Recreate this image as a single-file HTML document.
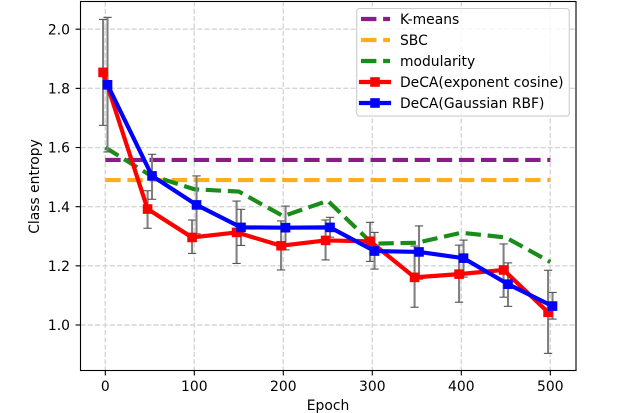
<!DOCTYPE html>
<html>
<head>
<meta charset="utf-8">
<style>
html,body{margin:0;padding:0;background:#fff;width:640px;height:413px;overflow:hidden}
svg{display:block}
text{font-family:"DejaVu Sans","Liberation Sans",sans-serif;font-size:13.89px;fill:#000}
</style>
</head>
<body>
<svg id="chart" width="640" height="413" viewBox="0 0 640 413" xmlns="http://www.w3.org/2000/svg">
  <g id="grid"></g>
  <g id="series"></g>
  <rect x="80.5" y="1.5" width="495.5" height="369" fill="none" stroke="#000" stroke-width="1.11"/>
  <g id="ticks"></g>
  <text x="328" y="410" text-anchor="middle">Epoch</text>
  <text transform="translate(39,186.5) rotate(-90)" text-anchor="middle">Class entropy</text>
  <g>
    <rect x="356.7" y="8.5" width="212.6" height="107.6" rx="3" ry="3" fill="#fff" fill-opacity="0.8" stroke="#ccc" stroke-width="1.11"/>
    <g>
      <line x1="361" x2="390" y1="19" y2="19" stroke="#8b1a8b" stroke-width="4.17" stroke-dasharray="15.4 6.7"/>
      <text x="400" y="24">K-means</text>
    </g>
    <g>
      <line x1="361" x2="390" y1="40" y2="40" stroke="#ffae1a" stroke-width="4.17" stroke-dasharray="15.4 6.7"/>
      <text x="400" y="45">SBC</text>
    </g>
    <g>
      <line x1="361" x2="390" y1="61" y2="61" stroke="#1a8c1a" stroke-width="4.17" stroke-dasharray="15.4 6.7"/>
      <text x="400" y="66">modularity</text>
    </g>
    <g>
      <line x1="361" x2="389" y1="82" y2="82" stroke="#f00" stroke-width="4.17" stroke-linecap="square"/>
      <rect x="370.2" y="77.2" width="9.6" height="9.6" fill="#f00"/>
      <text x="400" y="87">DeCA(exponent cosine)</text>
    </g>
    <g>
      <line x1="361" x2="389" y1="103" y2="103" stroke="#00f" stroke-width="4.17" stroke-linecap="square"/>
      <rect x="370.2" y="98.2" width="9.6" height="9.6" fill="#00f"/>
      <text x="400" y="108">DeCA(Gaussian RBF)</text>
    </g>
  </g>
</svg>
<script>
const epochs = [0, 50, 100, 150, 200, 250, 300, 350, 400, 450, 500];
const xTickLabels = [0, 100, 200, 300, 400, 500];
const yTickLabels = ["1.0", "1.2", "1.4", "1.6", "1.8", "2.0"];
const kmeansValue = 1.558;
const sbcValue = 1.49;
const modularity = [1.6, 1.507, 1.459, 1.451, 1.368, 1.42, 1.275, 1.278, 1.312, 1.296, 1.213];
const cosineMean = [1.854, 1.392, 1.296, 1.313, 1.268, 1.286, 1.283, 1.161, 1.172, 1.186, 1.043];
const cosineHigh = [2.033, 1.454, 1.355, 1.419, 1.352, 1.355, 1.347, 1.267, 1.27, 1.274, 1.185];
const cosineLow = [1.675, 1.327, 1.242, 1.208, 1.186, 1.22, 1.215, 1.06, 1.077, 1.094, 0.904];
const rbfMean = [1.812, 1.504, 1.406, 1.33, 1.329, 1.33, 1.25, 1.247, 1.226, 1.138, 1.064];
const rbfHigh = [2.04, 1.577, 1.504, 1.391, 1.402, 1.364, 1.313, 1.335, 1.287, 1.21, 1.11];
const rbfLow = [1.585, 1.425, 1.308, 1.269, 1.254, 1.297, 1.189, 1.155, 1.162, 1.063, 1.02];
const cosineOffset = -2.5;
const rbfOffset = 2.5;

const NS = 'http://www.w3.org/2000/svg';
function X(v) { return 105.3 + 0.89 * v; }
function Y(v) { return 325 - 295.8 * (v - 1); }
function make(tag, parent) {
  const el = document.createElementNS(NS, tag);
  parent.appendChild(el);
  return el;
}
function setAll(el, pairs) {
  for (const k in pairs) el.setAttribute(k, pairs[k]);
}
const gridG = document.getElementById('grid');
const seriesG = document.getElementById('series');
const ticksG = document.getElementById('ticks');
const gridStyle = { stroke: '#d6d6d6', 'stroke-width': 1.39, 'stroke-dasharray': '5.1 2.2', fill: 'none' };

xTickLabels.forEach(function (t) {
  const g = make('line', gridG);
  
  
  setAll(g, gridStyle);
  setAll(g, { x1: X(t), x2: X(t), y1: 1.5, y2: 370.5 });
  const tk = make('line', ticksG);
  
  
  setAll(tk, { x1: X(t), x2: X(t), y1: 370.5, y2: 375.4, stroke: '#000', 'stroke-width': 1.11 });
  const lb = make('text', ticksG);
  
  
  setAll(lb, { x: X(t), y: 391, 'text-anchor': 'middle' });
  lb.textContent = t;
});
yTickLabels.forEach(function (t) {
  const v = parseFloat(t);
  const g = make('line', gridG);
  
  
  setAll(g, gridStyle);
  setAll(g, { x1: 80.5, x2: 576, y1: Y(v), y2: Y(v) });
  const tk = make('line', ticksG);
  
  
  setAll(tk, { x1: 75.6, x2: 80.5, y1: Y(v), y2: Y(v), stroke: '#000', 'stroke-width': 1.11 });
  const lb = make('text', ticksG);
  
  
  setAll(lb, { x: 70, y: Y(v) + 5.2, 'text-anchor': 'end' });
  lb.textContent = t;
});

function dashedStyle(el, color) {
  setAll(el, { stroke: color, 'stroke-width': 4.17, 'stroke-dasharray': '15.4 6.7', fill: 'none', 'stroke-linejoin': 'round' });
}
const km = make('line', seriesG);


dashedStyle(km, '#8b1a8b');
setAll(km, { x1: X(epochs[0]), x2: X(epochs[epochs.length - 1]), y1: Y(kmeansValue), y2: Y(kmeansValue) });

const sb = make('line', seriesG);


dashedStyle(sb, '#ffae1a');
setAll(sb, { x1: X(epochs[0]), x2: X(epochs[epochs.length - 1]), y1: Y(sbcValue), y2: Y(sbcValue) });

const mod = make('polyline', seriesG);


dashedStyle(mod, '#1a8c1a');
mod.setAttribute('points', epochs.map(function (e, i) { return X(e) + ',' + Y(modularity[i]); }).join(' '));

function drawErrors(high, low, offset, name) {
  epochs.forEach(function (e, i) {
    const x = X(e + offset);
    const bar = make('line', seriesG);
    
    
    setAll(bar, { x1: x, x2: x, y1: Y(high[i]), y2: Y(low[i]), stroke: '#808080', 'stroke-width': 2.08 });
    [high[i], low[i]].forEach(function (v) {
      const cap = make('line', seriesG);
      
      
      setAll(cap, { x1: x - 4.17, x2: x + 4.17, y1: Y(v), y2: Y(v), stroke: '#555', 'stroke-width': 1.11 });
    });
  });
}
drawErrors(cosineHigh, cosineLow, cosineOffset, 'cosine');
drawErrors(rbfHigh, rbfLow, rbfOffset, 'rbf');

function drawSolid(values, offset, color, name) {
  const line = make('polyline', seriesG);
  
  
  setAll(line, { stroke: color, 'stroke-width': 4.17, fill: 'none', 'stroke-linejoin': 'round' });
  line.setAttribute('points', epochs.map(function (e, i) { return X(e + offset) + ',' + Y(values[i]); }).join(' '));
  epochs.forEach(function (e, i) {
    const m = make('rect', seriesG);
    
    
    setAll(m, { x: X(e + offset) - 4.8, y: Y(values[i]) - 4.8, width: 9.6, height: 9.6, fill: color });
  });
}
drawSolid(cosineMean, cosineOffset, '#f00', 'cosine');
drawSolid(rbfMean, rbfOffset, '#00f', 'rbf');
</script>
</body>
</html>
